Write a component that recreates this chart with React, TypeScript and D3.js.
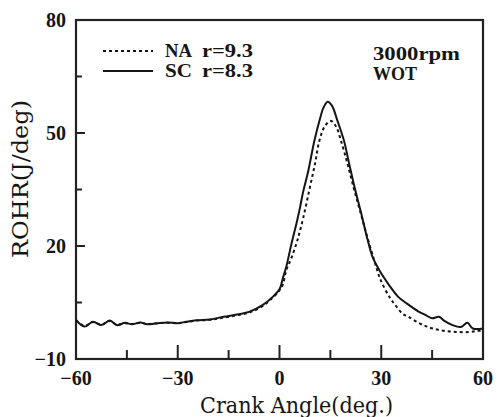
import React from "react";
import * as d3 from "d3";

const scAngle = [-60, -57.5, -55, -52.5, -50, -48, -45.5, -43.5, -41, -39, -36, -33, -30, -27.5, -24.5, -20.5, -16.5, -12, -9, -5, -2, 0, 1, 2, 3.5, 5, 6, 7, 8.5, 10.3, 12, 13, 14.2, 15.5, 17, 19, 20.5, 22.3, 24, 26, 27.4, 29.4, 32.4, 35, 37.6, 41, 43, 45, 47, 48.5, 51, 53.5, 55.4, 57, 60];
const scValue = [0.4, -1.4, -0.1, -1.0, 0.2, -1.0, -0.4, -0.8, -0.3, -0.8, -0.5, -0.3, -0.5, -0.1, 0.3, 0.5, 1.2, 1.9, 2.5, 4.3, 6.5, 8.5, 11.5, 14.5, 20.5, 26, 30, 34.5, 40, 48, 54, 56.8, 58.3, 57.2, 53.5, 48, 42, 35, 29, 21.6, 17.2, 13.6, 9.5, 6.5, 4.7, 2.6, 1.7, 0.8, 1.2, 0.2, -1.0, -1.5, -0.4, -1.9, -1.9];

const naAngle = [-60, -57.5, -55, -52.5, -50, -48, -45.5, -43.5, -41, -39, -36, -33, -30, -27.5, -24.5, -20.5, -16.5, -12, -9, -5, -2, 0, 1, 2, 3.5, 5.3, 7, 8.8, 10.5, 11.8, 13.5, 15.2, 16.8, 18.1, 20, 22, 24, 26, 28, 29.8, 32.4, 34, 36.3, 38, 41.2, 43.5, 46, 49, 52, 55, 58, 60];
const naValue = [0.3, -1.2, -0.2, -0.9, 0.1, -0.9, -0.5, -0.7, -0.4, -0.7, -0.5, -0.4, -0.5, -0.2, 0.2, 0.4, 1.0, 1.7, 2.3, 4.0, 6.3, 8.2, 9.8, 13.6, 16.8, 21.6, 27.5, 34.9, 42, 48.1, 52, 53.2, 51.5, 48, 42, 35, 28.5, 22, 16, 11, 6.5, 4.5, 2, 1.2, -0.5, -1.4, -2.1, -2.6, -2.8, -2.9, -2.6, -2.4];

const xTicks = [-60, -30, 0, 30, 60];
const xMinor = [-45, -15, 15, 45];
const yTicks = [-10, 20, 50, 80];
const yMinor = [5, 35, 65];

export default function App() {
  const L = 76, R = 483, T = 20, B = 359;
  const xs = d3.scaleLinear().domain([-60, 60]).range([L, R]);
  const ys = d3.scaleLinear().domain([-10, 80]).range([B, T]);
  const lineGen = d3
    .line<[number, number]>()
    .x((d) => xs(d[0]))
    .y((d) => ys(d[1]))
    .curve(d3.curveCatmullRom.alpha(0.5));
  const sc = lineGen(scAngle.map((a, i) => [a, scValue[i]]) as [number, number][]) || "";
  const na = lineGen(naAngle.map((a, i) => [a, naValue[i]]) as [number, number][]) || "";

  const serif = "'Liberation Serif', 'Times New Roman', serif";
  const wide = "'DejaVu Serif', serif";
  const ink = "#151515";
  const axisInk = "#222222";
  const fmt = (t: number) => (t < 0 ? "−" + Math.abs(t) : String(t));
  return (
    <svg width={498} height={417} style={{ position: "absolute", left: 0, top: 0, background: "#fff" }}>
      <rect x={L} y={T} width={R - L} height={B - T} fill="none" stroke={axisInk} strokeWidth={2.2} />
      {yTicks.map((t) => (
        <line key={"yt" + t} x1={L} x2={L + 9} y1={ys(t)} y2={ys(t)} stroke={axisInk} strokeWidth={2} />
      ))}
      {yMinor.map((t) => (
        <line key={"ym" + t} x1={L} x2={L + 6} y1={ys(t)} y2={ys(t)} stroke={axisInk} strokeWidth={2} />
      ))}
      {xTicks.map((t) => (
        <line key={"xt" + t} x1={xs(t)} x2={xs(t)} y1={B} y2={B - 14} stroke={axisInk} strokeWidth={2} />
      ))}
      {xMinor.map((t) => (
        <line key={"xm" + t} x1={xs(t)} x2={xs(t)} y1={B} y2={B - 9} stroke={axisInk} strokeWidth={2} />
      ))}
      {yTicks.map((t) => (
        <text key={"yl" + t} x={66} y={ys(t) + 7} textAnchor="end" fontFamily={serif} fontSize={20} fontWeight="bold" fill={ink}>
          {fmt(t)}
        </text>
      ))}
      {xTicks.map((t) => (
        <text key={"xl" + t} x={xs(t)} y={385} textAnchor="middle" fontFamily={serif} fontSize={20} fontWeight="bold" fill={ink}>
          {fmt(t)}
        </text>
      ))}
      <path d={na} fill="none" stroke={ink} strokeWidth={2} strokeDasharray="3,3" />
      <path d={sc} fill="none" stroke={ink} strokeWidth={2} />
      <path d="M103,51H153" stroke={ink} strokeWidth={2} strokeDasharray="3,3" />
      <path d="M103,71H153" stroke={ink} strokeWidth={2} />
      <g fontFamily={serif} fontSize={19} fontWeight="bold" fill={ink}>
        <text x={165} y={57} textLength={27} lengthAdjust="spacingAndGlyphs">NA</text>
        <text x={202} y={57} textLength={51} lengthAdjust="spacingAndGlyphs">r=9.3</text>
        <text x={165} y={77} textLength={27} lengthAdjust="spacingAndGlyphs">SC</text>
        <text x={202} y={77} textLength={51} lengthAdjust="spacingAndGlyphs">r=8.3</text>
        <text x={373} y={60} textLength={87} lengthAdjust="spacingAndGlyphs">3000rpm</text>
        <text x={373} y={80} fontSize={18}>WOT</text>
      </g>
      <text x={200} y={413} fontFamily={wide} fontSize={22} fill={ink} textLength={193} lengthAdjust="spacingAndGlyphs">
        Crank Angle(deg.)
      </text>
      <text transform="translate(28,258) rotate(-90)" fontFamily={wide} fontSize={22} fill={ink} textLength={158} lengthAdjust="spacingAndGlyphs">
        ROHR(J/deg)
      </text>
    </svg>
  );
}
